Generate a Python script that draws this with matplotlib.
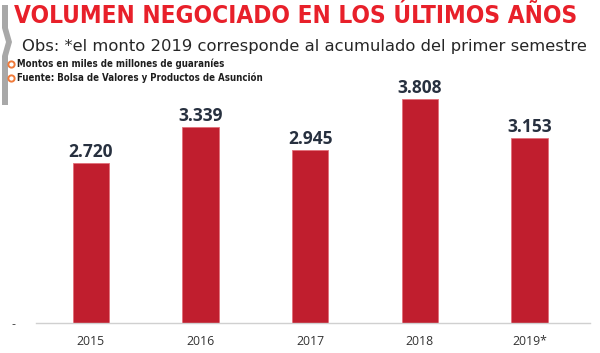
import matplotlib.pyplot as plt
from matplotlib.patches import Polygon
from matplotlib.lines import Line2D

# Datos
anios = ['2015', '2016', '2017', '2018', '2019*']
montos = [2720, 3339, 2945, 3808, 3153]
etiquetas = ['2.720', '3.339', '2.945', '3.808', '3.153']

rojo = '#c01e2e'

fig = plt.figure(figsize=(6, 3.53), dpi=100)
ax = fig.add_axes([0.06, 0.085, 0.923, 0.717])

x = range(len(anios))
ax.bar(x, montos, width=0.33, color=rojo, edgecolor='#e2707a', linewidth=0.6, zorder=2)

for xi, v, t in zip(x, montos, etiquetas):
    ax.text(xi, v + 30, t, ha='center', va='bottom', fontsize=12.5,
            fontweight='bold', color='#27303f', family='Open Sans')

ax.set_xlim(-0.5, 4.55)
ax.set_ylim(0, 4303)
ax.set_xticks(list(x))
ax.set_xticklabels(anios, fontsize=8.8, color='#333333', family='Open Sans')
ax.set_yticks([0])
ax.set_yticklabels(['-'], fontsize=8, color='#333333')
ax.tick_params(axis='x', length=0, pad=9)
ax.tick_params(axis='y', length=0, pad=15)
for s in ['top', 'right', 'left']:
    ax.spines[s].set_visible(False)
ax.spines['bottom'].set_color('#d0d0d0')
ax.spines['bottom'].set_linewidth(1)

# Barra gris con flecha a la izquierda
gris = Polygon([(2/600, 1-5/353), (8/600, 1-5/353), (8/600, 1-28/353),
                (12/600, 1-42/353), (8/600, 1-56/353), (8/600, 1-105/353),
                (2/600, 1-105/353), (2/600, 1-56/353), (6/600, 1-42/353),
                (2/600, 1-28/353)],
               closed=True, transform=fig.transFigure, color='#a8a8a8', lw=0)
fig.add_artist(gris)

fig.text(14/600, 1-16/353, 'VOLUMEN NEGOCIADO EN LOS ÚLTIMOS AÑOS',
         fontsize=17.5, fontweight='bold', color='#e8202a', va='center',
         family='DejaVu Sans', fontstretch='condensed')
fig.text(22/600, 1-47/353,
         'Obs: *el monto 2019 corresponde al acumulado del primer semestre',
         fontsize=11.8, color='#262626', va='center', family='DejaVu Sans')

for yy, t in [(64, 'Montos en miles de millones de guaraníes'),
              (78, 'Fuente: Bolsa de Valores y Productos de Asunción')]:
    fig.add_artist(Line2D([11/600], [1-yy/353], marker='o', ms=4.5,
                          mfc='white', mec='#f07a3a', mew=1.4,
                          transform=fig.transFigure))
    fig.text(17/600, 1-yy/353, t, fontsize=6.9, fontweight='bold',
             color='#1e1e1e', va='center', family='DejaVu Sans',
             fontstretch='condensed')

plt.savefig('out.png', dpi=100)
